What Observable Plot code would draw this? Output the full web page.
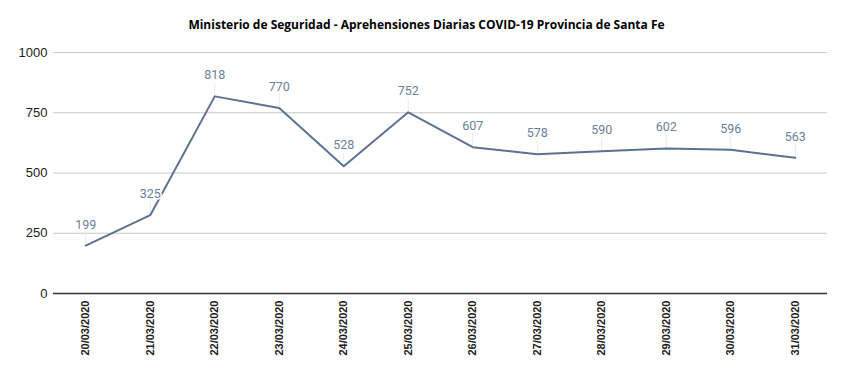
<!DOCTYPE html>
<html><head><meta charset="utf-8">
<script src="https://cdn.jsdelivr.net/npm/d3@7"></script>
<script src="https://cdn.jsdelivr.net/npm/@observablehq/plot@0.6"></script>
<style>
body{margin:0;background:#fff;}
#title{height:40px;line-height:50px;text-align:center;font-family:"Open Sans",sans-serif;font-weight:700;font-size:12px;color:#000;width:853px;}
</style></head><body>
<div id="title">Ministerio de Seguridad - Aprehensiones Diarias COVID-19 Provincia de Santa Fe</div>
<div id="chart"></div>
<script>
const dates = ["20/03/2020","21/03/2020","22/03/2020","23/03/2020","24/03/2020","25/03/2020","26/03/2020","27/03/2020","28/03/2020","29/03/2020","30/03/2020","31/03/2020"];
const values = [199,325,818,770,528,752,607,578,590,602,596,563];
const yTicks = [0,250,500,750,1000];
const data = dates.map((d,i)=>({date:d, value:values[i]}));
const lineColor = "#5b7291";
const chart = Plot.plot({
  width: 847, height: 331,
  marginLeft: 53, marginRight: 20, marginTop: 12, marginBottom: 78,
  style: {fontFamily: "Arial, 'Liberation Sans', sans-serif", background: "#fff"},
  x: {type: "point", domain: dates, padding: 0.5, round: false, label: null},
  y: {domain: [0,1000], label: null},
  marks: [
    Plot.gridY(yTicks, {stroke: "#c8c8c8", strokeOpacity: 1}),
    Plot.ruleY([0], {stroke: "#333", strokeWidth: 1.5}),
    Plot.axisY(yTicks, {tickSize: 0, tickPadding: 6, fontSize: 13, fill: "#222", label: null, tickFormat: d3.format("d")}),
    Plot.axisX({tickSize: 0, tickRotate: -90, tickPadding: 7, fontSize: 11, fontWeight: "bold", fill: "#222", label: null}),
    Plot.ruleX(data, {x: "date", y1: d=>d.value, y2: d=>d.value + 55, stroke: "#e6ebf0", strokeWidth: 1}),
    Plot.line(data, {x: "date", y: "value", stroke: lineColor, strokeWidth: 2}),
    Plot.text(data, {x: "date", y: "value", text: d=>String(d.value), dy: -21, fill: "#6a819b", fontSize: 12.5, fontFamily: "Roboto, sans-serif", stroke: "#fff", strokeWidth: 3})
  ]
});
document.getElementById("chart").appendChild(chart);
</script>
</body></html>
